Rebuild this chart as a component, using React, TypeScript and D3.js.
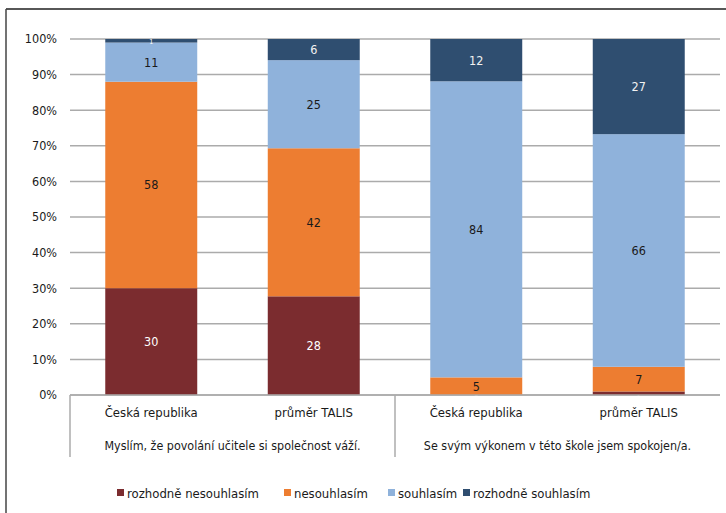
import * as React from 'react';
import * as d3 from 'd3';

const categories = ['Česká republika', 'průměr TALIS', 'Česká republika', 'průměr TALIS'];
const groups = ['Myslím, že povolání učitele si společnost váží.', 'Se svým výkonem v této škole jsem spokojen/a.'];
const seriesNames = ['rozhodně nesouhlasím', 'nesouhlasím', 'souhlasím', 'rozhodně souhlasím'];
const stronglyDisagree = [30, 28, 0, 1];
const disagree = [58, 42, 5, 7];
const agree = [11, 25, 84, 66];
const stronglyAgree = [1, 6, 12, 27];
const yTicks = [0, 0.1, 0.2, 0.3, 0.4, 0.5, 0.6, 0.7, 0.8, 0.9, 1];

const colors = ['#7B2C2F', '#ED7D31', '#8FB2DB', '#2F4E70'];
const labelColors = ['#ffffff', '#1a1a1a', '#1a1a1a', '#f2f2f2'];
const font = "'Liberation Sans Narrow', 'DejaVu Sans Condensed', 'Arial Narrow', sans-serif";

export default function App() {
  const width = 726;
  const height = 513;
  const left = 70, right = 720, top = 39, bottom = 395;

  const rows = categories.map((c, i) => ({
    idx: i,
    s0: stronglyDisagree[i], s1: disagree[i], s2: agree[i], s3: stronglyAgree[i],
  }));
  const keys = ['s0', 's1', 's2', 's3'];
  const stacked = d3.stack<any>().keys(keys).offset(d3.stackOffsetExpand)(rows);

  const x = d3.scaleBand<number>()
    .domain(categories.map((_, i) => i))
    .range([left, right])
    .paddingInner(0.434)
    .paddingOuter(0.217);
  const y = d3.scaleLinear().domain([0, 1]).range([bottom, top]);
  const step = x.step();
  const gx0 = left;
  const gx1 = left + step * 2;

  const legendX = [117, 284, 388, 463];

  return (
    <svg width={width} height={height} style={{ position: 'absolute', left: 0, top: 0 }}>
      <rect width={width} height={height} fill="#fff" />
      <line x1={6} x2={726} y1={9} y2={9} stroke="#1f1f1f" strokeWidth={1.5} />
      <line x1={6} x2={6} y1={9} y2={513} stroke="#444" strokeWidth={1.5} />

      {yTicks.map(t => (
        <g key={t}>
          <line x1={left} x2={right} y1={y(t)} y2={y(t)} stroke="#ABABAB" strokeWidth={1.5} />
          <text x={57} y={y(t)} dy="0.35em" textAnchor="end" fontFamily={font} fontSize={12.5} fill="#1a1a1a">
            {d3.format('.0%')(t)}
          </text>
        </g>
      ))}

      {stacked.map((s, si) => (
        <g key={si}>
          {s.map((d, i) => {
            const y0 = y(d[0]);
            const y1 = y(d[1]);
            const v = rows[i][keys[si] as 's0'];
            const h = y0 - y1;
            const small = h < 8;
            return (
              <g key={i}>
                <rect x={x(i)} y={y1} width={x.bandwidth()} height={Math.max(0, h)} fill={colors[si]} />
                <text
                  x={(x(i) as number) + x.bandwidth() / 2}
                  y={small ? (si === 3 ? y1 + 3 : y0 + 3) : (y0 + y1) / 2}
                  dy="0.35em"
                  textAnchor="middle"
                  fontFamily={font}
                  fontSize={small ? 7 : 12.5}
                  fill={small ? '#ffffff' : labelColors[si]}
                >
                  {v}
                </text>
              </g>
            );
          })}
        </g>
      ))}

      <line x1={left} x2={right} y1={bottom} y2={bottom} stroke="#ABABAB" strokeWidth={1.5} />
      {[gx0, gx1].map(gx => (
        <line key={gx} x1={gx} x2={gx} y1={bottom} y2={457} stroke="#ABABAB" strokeWidth={1.5} />
      ))}

      {categories.map((c, i) => (
        <text key={i} x={(x(i) as number) + x.bandwidth() / 2} y={412} dy="0.35em" textAnchor="middle"
          fontFamily={font} fontSize={13} fill="#1a1a1a">{c}</text>
      ))}
      {groups.map((g, i) => (
        <text key={i} x={left + step * (2 * i + 1)} y={446} dy="0.35em" textAnchor="middle"
          fontFamily={font} fontSize={12.4} fill="#1a1a1a">{g}</text>
      ))}

      {seriesNames.map((n, i) => (
        <g key={n}>
          <rect x={legendX[i]} y={489} width={7} height={7} fill={colors[i]} />
          <text x={legendX[i] + 10} y={493} dy="0.35em" fontFamily={font} fontSize={13} fill="#1a1a1a">{n}</text>
        </g>
      ))}
    </svg>
  );
}
